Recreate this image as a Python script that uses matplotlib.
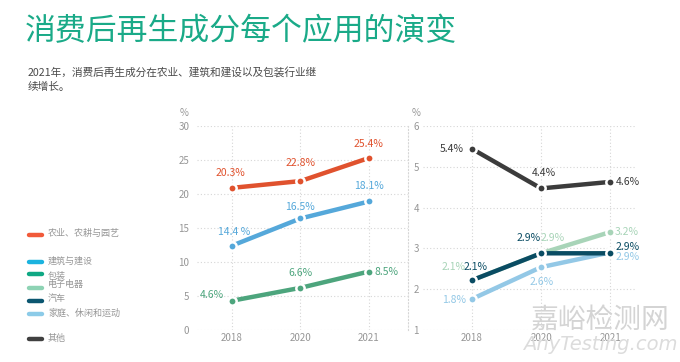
import matplotlib
matplotlib.use('Agg')
import matplotlib.pyplot as plt
from matplotlib.lines import Line2D

plt.rcParams['font.family'] = ['Noto Sans CJK SC', 'DejaVu Sans']

# 数据（点的位置按图读取，标签按图上文字）
years = ['2018', '2020', '2021']

agri = [20.9, 21.9, 25.3]
agri_labels = ['20.3%', '22.8%', '25.4%']
build = [12.4, 16.4, 18.9]
build_labels = ['14.4 %', '16.5%', '18.1%']
pack = [4.3, 6.2, 8.6]
pack_labels = ['4.6%', '6.6%', '8.5%']

other = [5.44, 4.47, 4.63]
other_labels = ['5.4%', '4.4%', '4.6%']
elec = [2.22, 2.88, 3.40]
elec_labels = ['2.1%', '2.9%', '3.2%']
auto = [2.22, 2.88, 2.88]
auto_labels = ['2.1%', '2.9%', '2.9%']
home = [1.76, 2.54, 2.90]
home_labels = ['1.8%', '2.6%', '2.9%']

legend_names = ['农业、农耕与园艺', '建筑与建设', '包装', '电子电器', '汽车',
                '家庭、休闲和运动', '其他']
legend_colors = ['#F15A3A', '#1BB3DF', '#0FA884', '#8ED3B4', '#0B5670',
                 '#8CCBE8', '#404040']

W, H = 680, 362
fig = plt.figure(figsize=(6.8, 3.62), dpi=100)

def fx(px):
    return px / W

def fy(py):
    return 1 - py / H

# 标题
fig.text(fx(25), fy(32), '消费后再生成分每个应用的演变', fontsize=22.2,
         color='#1AAA88', va='center', ha='left', fontweight='light')
fig.text(fx(28), fy(72), '2021年，消费后再生成分在农业、建筑和建设以及包装行业继',
         fontsize=7.7, color='#4a4a4a', va='center', ha='left')
fig.text(fx(28), fy(87), '续增长。', fontsize=7.7, color='#4a4a4a',
         va='center', ha='left')

grid_kw = dict(color='#d6d6d6', linestyle=(0, (1, 2)), linewidth=0.8)


def style_ax(ax, ylim, yticks, xlim, pad):
    ax.set_xlim(*xlim)
    ax.set_ylim(*ylim)
    ax.set_yticks(yticks)
    ax.set_xticks(range(len(years)))
    ax.set_xticklabels(years)
    for s in ax.spines.values():
        s.set_visible(False)
    ax.tick_params(length=0, labelsize=7, colors='#969696')
    ax.tick_params(axis='y', pad=pad)
    ax.tick_params(axis='x', pad=2)
    ax.grid(True, **grid_kw)
    ax.set_axisbelow(True)


def draw(ax, vals, labels, color, offsets, lcolor=None, weight='normal'):
    x = range(len(vals))
    ax.plot(x, vals, color=color, linewidth=3.2, solid_capstyle='butt',
            marker='o', markersize=6, markerfacecolor=color,
            markeredgecolor='white', markeredgewidth=1.8, zorder=3)
    for i, (v, t) in enumerate(zip(vals, labels)):
        ax.annotate(t, (i, v), xytext=offsets[i], textcoords='offset pixels',
                    ha='center', va='center', fontsize=7.5,
                    color=lcolor or color, fontweight=weight, zorder=4)


# 左图
ax1 = fig.add_axes([fx(197), fy(330), fx(408) - fx(197), fy(126) - fy(330)])
style_ax(ax1, (0, 30), range(0, 31, 5), (-0.51, 2.57), 5.5)
ax1.spines['right'].set_visible(True)
ax1.spines['right'].set(**grid_kw)

draw(ax1, agri, agri_labels, '#E0522E', [(-2, 15), (0, 18), (0, 14)])
draw(ax1, build, build_labels, '#55A8DA', [(2, 14), (0, 11), (0, 15)])
draw(ax1, pack, pack_labels, '#4DA57D', [(-20, 6), (0, 15), (18, 0)])

# 右图
ax2 = fig.add_axes([fx(423), fy(330), fx(635) - fx(423), fy(126) - fy(330)])
style_ax(ax2, (1, 6), range(1, 7), (-0.71, 2.36), 3)

draw(ax2, other, other_labels, '#3C3C3C', [(-20, 0), (3, 15), (18, 0)])
draw(ax2, elec, elec_labels, '#A8D4B8', [(-18, 13), (12, 15), (17, 0)])
draw(ax2, home, home_labels, '#93C8E6', [(-18, -1), (1, -15), (17, -5)])
draw(ax2, auto, auto_labels, '#0A4C63', [(4, 13), (-12, 15), (17, 6)])

fig.text(fx(184), fy(113), '%', fontsize=7, color='#969696', ha='center', va='center')
fig.text(fx(416), fy(113), '%', fontsize=7, color='#969696', ha='center', va='center')

# 图例
line_y = [235, 262, 274, 288, 301, 314, 339]
text_y = [233, 261, 277, 285, 298, 313, 338]
for name, c, ly, ty in zip(legend_names, legend_colors, line_y, text_y):
    fig.add_artist(Line2D([fx(29), fx(42)], [fy(ly), fy(ly)], color=c,
                          linewidth=3.2, solid_capstyle='round',
                          transform=fig.transFigure))
    fig.text(fx(48), fy(ty), name, fontsize=6.5, color='#969696',
             ha='left', va='center')

# 水印
fig.text(fx(600), fy(320), '嘉峪检测网', fontsize=20, color='#d4d4d4',
         ha='center', va='center', zorder=0)
fig.text(fx(600), fy(345), 'AnyTesting.com', fontsize=14, color='#dcdcdc',
         ha='center', va='center', style='italic', family='DejaVu Sans', zorder=0)

plt.savefig('out.png', dpi=100)
